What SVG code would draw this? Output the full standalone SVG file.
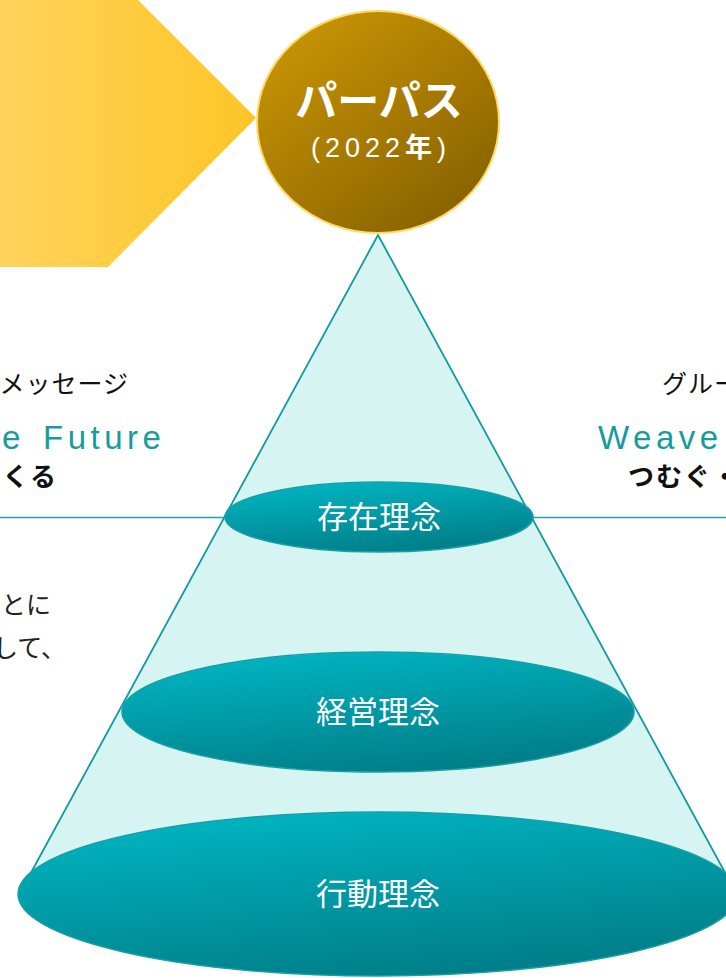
<svg xmlns="http://www.w3.org/2000/svg" width="726" height="978" viewBox="0 0 726 978">
<defs>
<linearGradient id="gYellow" x1="0" y1="0" x2="1" y2="0">
<stop offset="0" stop-color="#FED45E"/>
<stop offset="1" stop-color="#FDC526"/>
</linearGradient>
<linearGradient id="gGold" x1="0.15" y1="0.1" x2="0.85" y2="0.95">
<stop offset="0" stop-color="#C69304"/>
<stop offset="1" stop-color="#876100"/>
</linearGradient>
<linearGradient id="gTeal" x1="0.3" y1="0" x2="0.7" y2="1">
<stop offset="0" stop-color="#00B4C1"/>
<stop offset="1" stop-color="#007C86"/>
</linearGradient>
<style>
.jp{font-family:"Noto Sans CJK JP","Noto Sans",sans-serif;}
.lat{font-family:"Liberation Sans",Arial,"Noto Sans CJK JP",sans-serif;}
.lbl{fill:#111;font-size:25px;letter-spacing:1px;}
.big{fill:#169C9C;font-size:33px;letter-spacing:4.5px;}
.bold{font-weight:bold;fill:#111;font-size:26px;letter-spacing:2px;}
.body{fill:#222;font-size:25px;}
.ell{fill:url(#gTeal);stroke:#16A0A5;stroke-width:1.5;}
.elt{fill:#fff;font-size:31px;text-anchor:middle;}
</style>
</defs>
<g id="arrow">
<polygon points="-10,-31 107,-31 256,118 108,267 -10,267" fill="url(#gYellow)"/>
</g>
<g id="texts">
<text class="jp lbl" x="129" y="393" text-anchor="end">メッセージ</text>
<text class="lat big" x="2" y="449">e <tspan x="43">Future</tspan></text>
<text class="jp bold" x="58" y="486" text-anchor="end">くる</text>
<text class="jp lbl" x="662" y="393">グルー</text>
<text class="lat big" x="598" y="449">Weave</text>
<text class="jp bold" x="628" y="486">つむぐ・</text>
<text class="jp body" x="51" y="614" text-anchor="end">とに</text>
<text class="jp body" x="66" y="657" text-anchor="end">して、</text>
</g>
<g id="connectors">
<line x1="0" y1="517.5" x2="726" y2="517.5" stroke="#1FA5A5" stroke-width="1.3"/>
</g>
<g id="cone">
<polygon points="378,235 27,880 729,880" fill="#D6F4F2" stroke="#139A9E" stroke-width="1.8" stroke-linejoin="round"/>
</g>
<g id="purpose">
<ellipse cx="378" cy="122" rx="121" ry="111" fill="url(#gGold)" stroke="#FFD966" stroke-width="2"/>
<text class="jp" x="379" y="116" text-anchor="middle" fill="#fff" font-size="42" font-weight="bold">パーパス</text>
<text class="lat" x="381" y="157" text-anchor="middle" fill="#fff" font-size="27" letter-spacing="5">(2022<tspan class="jp" font-weight="bold">年</tspan>)</text>
</g>
<g id="node-sonzai">
<ellipse class="ell" cx="379" cy="517" rx="154" ry="35"/>
<text class="jp elt" x="379" y="528">存在理念</text>
</g>
<g id="node-keiei">
<ellipse class="ell" cx="378" cy="712" rx="256" ry="60"/>
<text class="jp elt" x="378" y="723">経営理念</text>
</g>
<g id="node-koudou">
<ellipse class="ell" cx="378" cy="894" rx="360" ry="82"/>
<text class="jp elt" x="378" y="905">行動理念</text>
</g>
</svg>
